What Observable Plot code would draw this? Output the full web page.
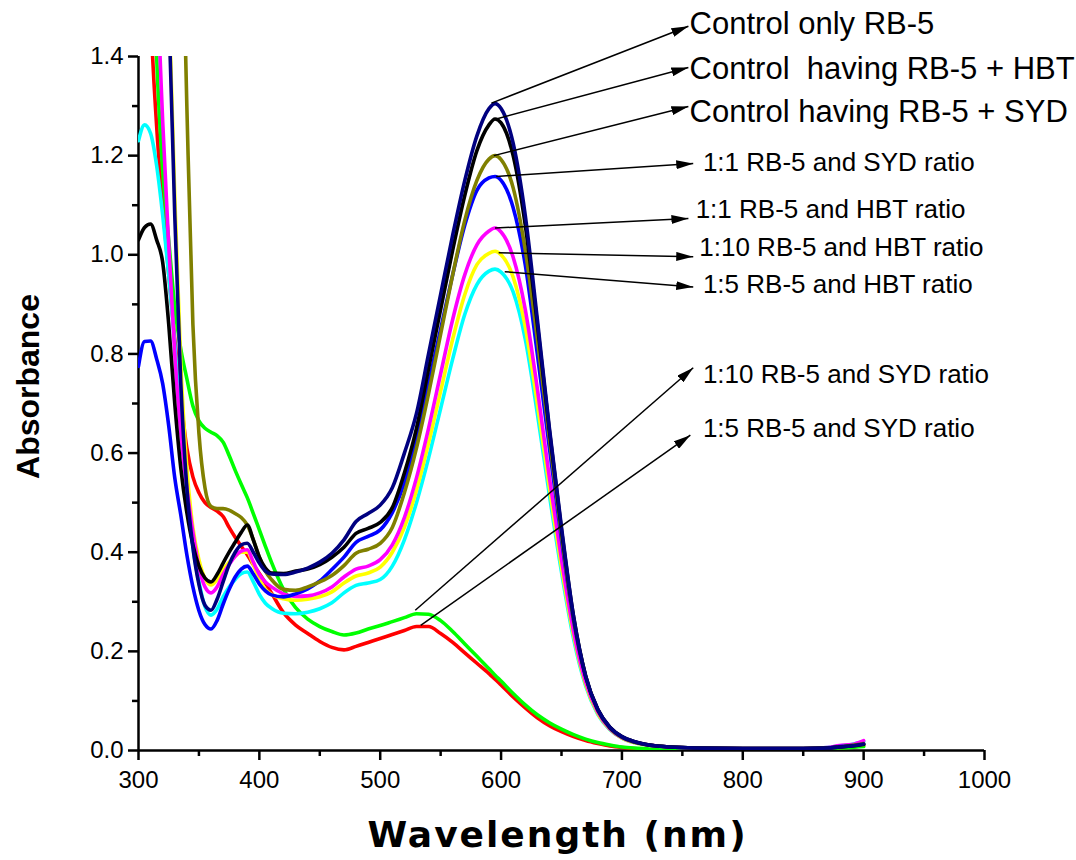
<!DOCTYPE html>
<html><head><meta charset="utf-8">
<script src="https://cdn.jsdelivr.net/npm/d3@7"></script>
<script src="https://cdn.jsdelivr.net/npm/@observablehq/plot@0.6"></script>
<style>body{margin:0;background:#fff} #chart svg{display:block}</style>
</head><body><div id="chart"></div>
<script>
// Wavelength grid (nm)
const wavelength = [300,305,310,315,320,325,330,335,340,345,350,355,360,365,370,375,380,385,390,395,400,405,410,
  420,430,440,450,460,470,480,490,500,510,520,530,540,550,560,570,580,590,595,
  600,610,620,630,640,650,660,670,680,690,700,710,720,740,760,800,850,870,880,890,900];

// Absorbance series
const controlOnlyRB5 = [3.2,2.8,2.4,2.05,1.75,1.5,1.08,0.74,0.53,0.41,0.335,0.293,0.283,0.305,0.34,0.375,0.4,0.415,0.418,0.4,0.378,0.362,0.356,
  0.355,0.36,0.368,0.38,0.398,0.425,0.462,0.478,0.495,0.53,0.6,0.68,0.8,0.92,1.04,1.15,1.24,1.295,1.305,
  1.295,1.225,1.08,0.87,0.65,0.45,0.27,0.15,0.083,0.047,0.028,0.018,0.012,0.007,0.005,0.004,0.004,0.005,0.007,0.009,0.013];
const controlHBT = [1.03,1.055,1.062,1.03,0.985,0.86,0.7,0.57,0.48,0.415,0.372,0.348,0.34,0.355,0.378,0.4,0.42,0.44,0.455,0.425,0.39,0.368,0.358,
  0.357,0.362,0.366,0.375,0.39,0.41,0.438,0.448,0.46,0.49,0.56,0.65,0.77,0.89,1.01,1.12,1.21,1.262,1.274,
  1.266,1.2,1.06,0.86,0.645,0.445,0.27,0.15,0.083,0.047,0.028,0.018,0.012,0.007,0.005,0.004,0.004,0.005,0.007,0.009,0.012];
const controlSYD = [4,3.6,3.2,2.9,2.6,2.3,2.05,1.8,1.3,0.86,0.64,0.53,0.492,0.488,0.488,0.485,0.478,0.47,0.455,0.425,0.39,0.362,0.345,
  0.325,0.323,0.33,0.34,0.353,0.373,0.398,0.406,0.418,0.45,0.52,0.61,0.72,0.84,0.96,1.07,1.15,1.193,1.2,
  1.192,1.135,1.01,0.83,0.63,0.435,0.265,0.15,0.082,0.046,0.027,0.017,0.012,0.007,0.005,0.004,0.004,0.005,0.007,0.01,0.014];
const ratio11SYD = [0.775,0.825,0.826,0.79,0.74,0.655,0.55,0.475,0.395,0.33,0.282,0.254,0.245,0.262,0.295,0.325,0.35,0.366,0.372,0.356,0.336,0.322,0.314,
  0.31,0.316,0.326,0.342,0.365,0.39,0.42,0.432,0.445,0.48,0.54,0.63,0.74,0.85,0.96,1.06,1.13,1.155,1.158,
  1.15,1.095,0.98,0.8,0.61,0.425,0.262,0.148,0.082,0.046,0.027,0.017,0.012,0.007,0.005,0.004,0.004,0.005,0.008,0.01,0.013];
const ratio11HBT = [3.0,2.6,2.1,1.6,1.27,1.02,0.8,0.64,0.53,0.44,0.37,0.33,0.318,0.33,0.355,0.375,0.392,0.402,0.405,0.38,0.355,0.34,0.33,
  0.316,0.311,0.312,0.318,0.33,0.35,0.366,0.372,0.385,0.415,0.47,0.55,0.65,0.76,0.87,0.96,1.02,1.048,1.054,
  1.046,0.995,0.89,0.73,0.55,0.385,0.24,0.138,0.078,0.044,0.026,0.017,0.012,0.007,0.005,0.004,0.004,0.006,0.01,0.012,0.02];
const ratio110HBT = [3.2,2.8,2.4,2.05,1.75,1.52,1.12,0.78,0.57,0.45,0.385,0.347,0.334,0.345,0.365,0.38,0.392,0.4,0.4,0.375,0.345,0.325,0.315,
  0.306,0.303,0.305,0.31,0.32,0.338,0.352,0.358,0.37,0.4,0.45,0.525,0.62,0.725,0.83,0.92,0.98,1.003,1.007,
  1.0,0.955,0.855,0.7,0.53,0.37,0.232,0.133,0.075,0.043,0.025,0.016,0.011,0.007,0.005,0.004,0.004,0.005,0.008,0.011,0.012];
const ratio15HBT = [1.23,1.262,1.245,1.18,1.08,0.96,0.82,0.66,0.52,0.41,0.34,0.29,0.273,0.285,0.31,0.33,0.345,0.357,0.36,0.34,0.315,0.297,0.287,
  0.277,0.276,0.279,0.286,0.298,0.318,0.333,0.338,0.345,0.372,0.425,0.5,0.59,0.69,0.79,0.88,0.94,0.967,0.971,
  0.965,0.925,0.83,0.68,0.515,0.36,0.225,0.13,0.073,0.042,0.025,0.016,0.011,0.007,0.005,0.004,0.004,0.006,0.009,0.012,0.018];
const ratio110SYD = [3.0,2.4,1.8,1.4,1.17,1.03,0.895,0.81,0.75,0.695,0.665,0.65,0.642,0.635,0.622,0.595,0.565,0.537,0.51,0.478,0.445,0.412,0.38,
  0.325,0.288,0.265,0.25,0.24,0.233,0.237,0.245,0.252,0.26,0.268,0.276,0.275,0.262,0.24,0.215,0.19,0.165,0.152,
  0.14,0.115,0.092,0.072,0.056,0.043,0.032,0.023,0.016,0.011,0.007,0.005,0.004,0.003,0.003,0.003,0.003,0.004,0.005,0.006,0.008];
const ratio15SYD = [3.0,2.0,1.5,1.26,1.1,0.96,0.83,0.71,0.61,0.552,0.52,0.5,0.49,0.483,0.472,0.45,0.43,0.412,0.395,0.375,0.357,0.338,0.318,
  0.278,0.253,0.236,0.22,0.208,0.203,0.21,0.218,0.226,0.234,0.242,0.25,0.25,0.236,0.218,0.197,0.176,0.155,0.144,
  0.132,0.108,0.086,0.066,0.05,0.038,0.028,0.02,0.014,0.009,0.006,0.004,0.003,0.003,0.003,0.003,0.003,0.004,0.005,0.007,0.01];

const seriesNames = ["1:5 RB-5 and SYD ratio","1:10 RB-5 and SYD ratio","1:5 RB-5 and HBT ratio","1:10 RB-5 and HBT ratio",
  "1:1 RB-5 and HBT ratio","1:1 RB-5 and SYD ratio","Control having RB-5 + SYD","Control  having RB-5 + HBT","Control only RB-5"];
const seriesValues = [ratio15SYD, ratio110SYD, ratio15HBT, ratio110HBT, ratio11HBT, ratio11SYD, controlSYD, controlHBT, controlOnlyRB5];
const seriesColors = ["#ff0000","#00ff00","#00ffff","#ffff00","#ff00ff","#0000ff","#808000","#000000","#000080"];

// Annotations
const annoLabels = ["Control only RB-5","Control  having RB-5 + HBT","Control having RB-5 + SYD","1:1 RB-5 and SYD ratio",
  "1:1 RB-5 and HBT ratio","1:10 RB-5 and HBT ratio","1:5 RB-5 and HBT ratio","1:10 RB-5 and SYD ratio","1:5 RB-5 and SYD ratio"];
const annoFromX = [592,596,594,596,595,598,603,529,533.5];
const annoFromY = [1.306,1.274,1.2,1.158,1.054,1.004,0.966,0.283,0.2525];
const annoTipX = [755,755,755,759,755,759,759,759,756.6];
const annoTipY = [1.461,1.378,1.299,1.184,1.073,0.996,0.935,0.772,0.636];
const annoTextX = [756,756,756,767,761,764,767,767,767];
const annoTextY = [1.465,1.374,1.287,1.186,1.091,1.014,0.939,0.758,0.65];
const annoBig = [true,true,true,false,false,false,false,false,false];

const xTicks = [300,400,500,600,700,800,900,1000];
const xMinor = [350,450,550,650,750,850,950];
const yTicks = [0,0.2,0.4,0.6,0.8,1.0,1.2,1.4];
const yMinor = [0.1,0.3,0.5,0.7,0.9,1.1,1.3];

const rows = [];
seriesNames.forEach((name, s) => wavelength.forEach((w, i) => rows.push({wl: w, abs: seriesValues[s][i], series: name})));

const annos = annoLabels.map((t, i) => ({t, x1: annoFromX[i], y1: annoFromY[i], x2: annoTipX[i], y2: annoTipY[i], tx: annoTextX[i], ty: annoTextY[i], big: annoBig[i]}));

const SVGNS = "http://www.w3.org/2000/svg";
function filledArrow(color, context) {
  const doc = (context && context.document) || document;
  const m = doc.createElementNS(SVGNS, "marker");
  m.setAttribute("viewBox", "-17 -4.5 17 9");
  m.setAttribute("markerWidth", 17);
  m.setAttribute("markerHeight", 9);
  m.setAttribute("markerUnits", "userSpaceOnUse");
  m.setAttribute("orient", "auto");
  m.setAttribute("refX", 0);
  m.setAttribute("refY", 0);
  const p = doc.createElementNS(SVGNS, "path");
  p.setAttribute("d", "M-17,-4.5L0,0L-17,4.5Z");
  p.setAttribute("fill", "black");
  p.setAttribute("stroke", "none");
  m.appendChild(p);
  return m;
}
let arrowMarker = filledArrow;
try { Plot.link([], {x1: "a", y1: "a", x2: "a", y2: "a", markerEnd: filledArrow}); } catch (e) { arrowMarker = "arrow"; }

const lineMarks = seriesNames.map((name, s) =>
  Plot.line(rows.filter(r => r.series === name), {x: "wl", y: "abs", stroke: seriesColors[s], strokeWidth: 3.6, curve: "monotone-x", clip: true}));

const chart = Plot.plot({
  width: 1076, height: 860,
  marginLeft: 138, marginRight: 92, marginTop: 56, marginBottom: 110,
  x: {domain: [300, 1000]},
  y: {domain: [0, 1.4]},
  style: {fontFamily: "'Liberation Sans', Arial, sans-serif", fontSize: "24px", background: "white", color: "black"},
  marks: [
    Plot.axisX({ticks: xTicks, tickSize: 10, tickPadding: 10, strokeWidth: 2.5, label: null, fontSize: 24, tickFormat: d => String(d)}),
    Plot.axisX({ticks: xMinor, tickSize: 6, strokeWidth: 2.5, label: null, tickFormat: () => ""}),
    Plot.axisY({ticks: yTicks, tickSize: 10, tickPadding: 5, strokeWidth: 2.5, label: null, fontSize: 24, tickFormat: d3.format(".1f")}),
    Plot.axisY({ticks: yMinor, tickSize: 6, strokeWidth: 2.5, label: null, tickFormat: () => ""}),
    Plot.ruleY([0], {stroke: "black", strokeWidth: 2.5}),
    Plot.ruleX([300], {stroke: "black", strokeWidth: 2.5}),
    ...lineMarks,
    Plot.link(annos, {x1: "x1", y1: "y1", x2: "x2", y2: "y2", stroke: "black", strokeWidth: 1.5, markerEnd: arrowMarker}),
    Plot.text(annos.filter(d => d.big), {x: "tx", y: "ty", text: "t", textAnchor: "start", lineAnchor: "middle", fontSize: 31, fill: "black"}),
    Plot.text(annos.filter(d => !d.big), {x: "tx", y: "ty", text: "t", textAnchor: "start", lineAnchor: "middle", fontSize: 26, fill: "black"}),
    Plot.text(["Absorbance"], {frameAnchor: "left", textAnchor: "middle", lineAnchor: "middle", dx: -110, dy: -17, rotate: -90, fontSize: 32, fontWeight: "bold", fill: "black"}),
    Plot.text(["Wavelength (nm)"], {frameAnchor: "bottom", textAnchor: "middle", lineAnchor: "middle", dy: 85, dx: -4, fontSize: 36, fontWeight: "bold", fontFamily: "'DejaVu Sans', sans-serif", fill: "black"})
  ]
});
d3.select(chart).selectAll("text").filter(function() { return this.textContent === "Wavelength (nm)"; }).style("letter-spacing", "2px");
document.getElementById("chart").appendChild(chart);
</script>
</body></html>
